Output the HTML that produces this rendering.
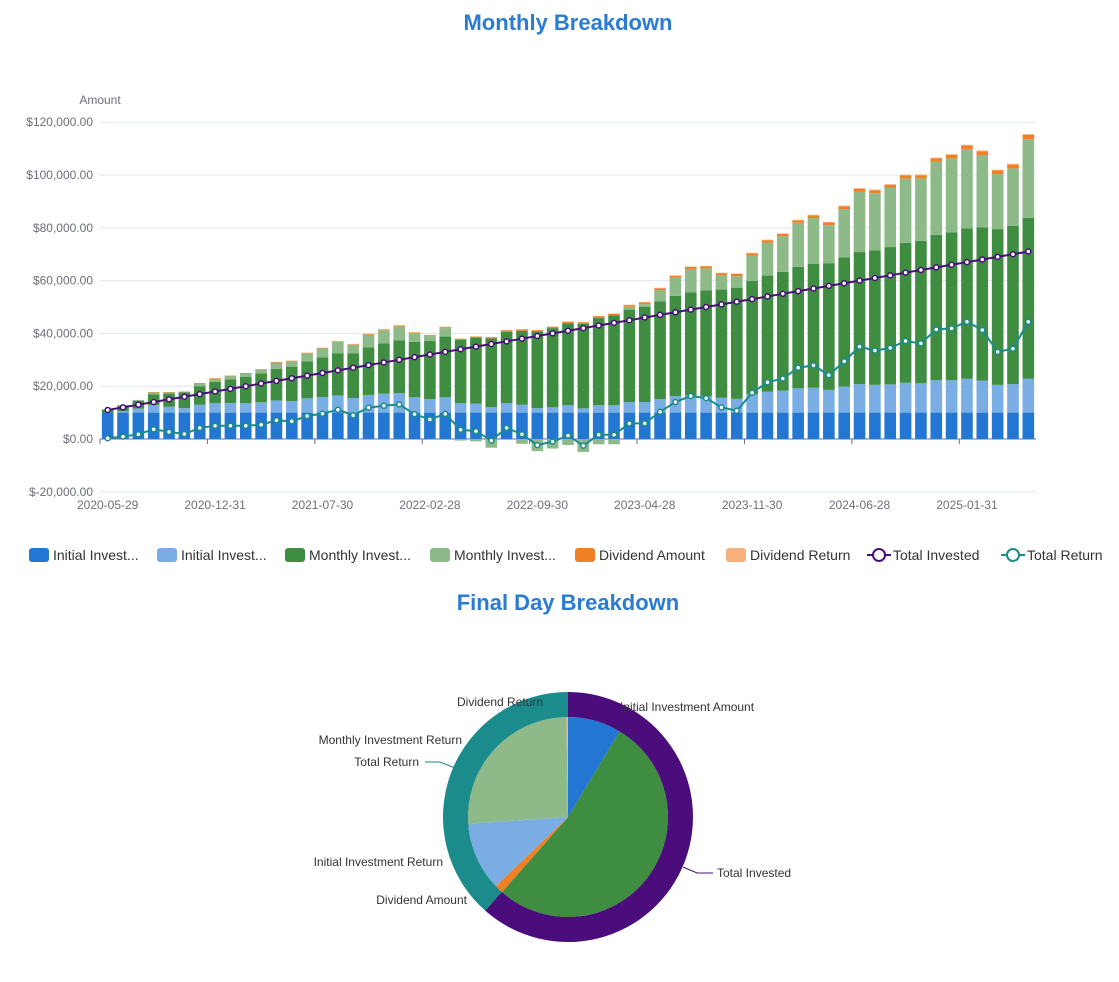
<!DOCTYPE html>
<html><head><meta charset="utf-8"><style>
body{margin:0;background:#fff;font-family:"Liberation Sans",sans-serif;}
svg text{font-family:"Liberation Sans",sans-serif;}
</style></head><body>
<svg id="chart" width="1119" height="977" xmlns="http://www.w3.org/2000/svg">
<text x="568" y="30" text-anchor="middle" font-size="22" font-weight="bold" fill="#2a7bd3">Monthly Breakdown</text>
<text x="100" y="104" text-anchor="middle" font-size="12" fill="#6e7079">Amount</text>
<g id="grid"></g>
<g id="bars"></g>
<g id="lines"></g>
<g id="legend"></g>
<text x="568" y="610" text-anchor="middle" font-size="22" font-weight="bold" fill="#2a7bd3">Final Day Breakdown</text>
<g id="pie"></g>
</svg>
<script>
const dates=["2020-05-29","2020-12-31","2021-07-30","2022-02-28","2022-09-30","2023-04-28","2023-11-30","2024-06-28","2025-01-31"];
const yTicks=[-20000,0,20000,40000,60000,80000,100000,120000];
const initialAmount=[10,10,10,10,10,10,10,10,10,10,10,10,10,10,10,10,10,10,10,10,10,10,10,10,10,10,10,10,10,10,10,10,10,10,10,10,10,10,10,10,10,10,10,10,10,10,10,10,10,10,10,10,10,10,10,10,10,10,10,10,10];
const initialReturn=[0,0.6,1.5,2.9,2.2,1.7,3.0,3.6,3.6,3.6,3.9,4.6,4.4,5.4,5.9,6.5,5.5,6.7,7.2,7.4,5.8,5.1,5.8,3.6,3.4,2.1,3.6,3.0,1.7,2.0,2.8,1.6,2.8,2.8,4.0,4.0,5.1,6.2,6.5,6.3,5.6,5.2,6.9,7.9,8.3,9.2,9.4,8.6,9.8,10.8,10.5,10.7,11.3,11.1,12.3,12.3,12.8,12.1,10.5,10.8,12.8];
const monthlyAmount=[1,2,3,4,5,6,7,8,9,10,11,12,13,14,15,16,17,18,19,20,21,22,23,24,25,26,27,28,29,30,31,32,33,34,35,36,37,38,39,40,41,42,43,44,45,46,47,48,49,50,51,52,53,54,55,56,57,58,59,60,61];
const monthlyReturn=[0.3,0.3,0.3,0.8,0.5,0.2,1.1,1.3,1.3,1.3,1.4,2.4,2.0,3.0,3.4,4.3,3.2,4.8,5.0,5.3,3.2,1.9,3.2,-0.6,-0.9,-3.3,0.1,-1.8,-4.6,-3.6,-2.3,-4.9,-2.0,-2.0,1.1,1.1,4.3,6.9,8.9,8.3,5.4,4.5,9.6,12.5,13.5,16.7,17.3,14.4,18.3,22.8,21.6,22.4,24.3,23.6,27.7,28.0,30.0,27.5,20.8,21.7,29.8];
const dividendAmount=[0,0,0,0.05,0.05,0.05,0.1,0.1,0.1,0.1,0.15,0.15,0.2,0.2,0.2,0.25,0.25,0.3,0.3,0.3,0.35,0.35,0.4,0.4,0.4,0.45,0.45,0.5,0.5,0.5,0.55,0.55,0.6,0.6,0.6,0.65,0.7,0.7,0.75,0.75,0.8,0.8,0.85,0.9,0.9,0.95,1.0,1.0,1.05,1.1,1.1,1.15,1.2,1.2,1.25,1.3,1.35,1.4,1.4,1.45,1.6];
const dividendReturn=[0,0,0,0,0,0,0,0,0,0,0,0,0.1,0.1,0.1,0.1,0.1,0.1,0.1,0.1,0.1,0.1,0.1,0.1,0.1,0.1,0.1,0.1,0.1,0.1,0.2,0.2,0.2,0.2,0.2,0.2,0.2,0.2,0.2,0.2,0.2,0.2,0.2,0.2,0.2,0.2,0.2,0.2,0.3,0.3,0.3,0.3,0.3,0.3,0.3,0.3,0.3,0.3,0.3,0.3,0.3];
const totalInvested=[11,12,13,14,15,16,17,18,19,20,21,22,23,24,25,26,27,28,29,30,31,32,33,34,35,36,37,38,39,40,41,42,43,44,45,46,47,48,49,50,51,52,53,54,55,56,57,58,59,60,61,62,63,64,65,66,67,68,69,70,71];
const totalReturn=[0.3,0.9,1.8,3.7,2.7,1.9,4.2,5.0,5.0,5.0,5.4,7.1,6.7,8.7,9.6,11.1,9.0,11.9,12.6,13.1,9.4,7.4,9.5,3.5,3.0,-0.6,4.2,1.8,-2.3,-1.0,1.3,-2.5,1.6,1.6,5.9,5.9,10.3,14.0,16.3,15.5,12.0,10.7,17.5,21.5,22.9,27.0,27.9,24.2,29.4,35.0,33.5,34.5,37.1,36.2,41.5,41.9,44.4,41.3,33.0,34.2,44.4];
const seriesNames=["Initial Investment Amount","Initial Investment Return","Monthly Investment Amount","Monthly Investment Return","Dividend Amount","Dividend Return","Total Invested","Total Return"];
const colors=["#2377d3","#7aade3","#3f8d41","#8eba8a","#f08024","#f5b07e","#4a0d7b","#1b8b8b"];

const NS="http://www.w3.org/2000/svg";
function mk(tag,attrs,parent){const e=document.createElementNS(NS,tag);for(const k in attrs)e.setAttribute(k,attrs[k]);parent.appendChild(e);return e;}
const X0=100,X1=1036,N=initialAmount.length,step=(X1-X0)/N;
const yScale=v=>439-(v/20000)*52.8;
const xCenter=i=>X0+step*(i+0.5);
const grid=document.getElementById('grid');
yTicks.forEach(t=>{
  if(t!==0){const l=mk('line',{x1:X0,x2:X1,y1:yScale(t),y2:yScale(t),stroke:'#e0e6f1'},grid);
  
  }
  const tx=mk('text',{x:93,y:yScale(t)+4,'text-anchor':'end','font-size':12,fill:'#6e7079'},grid);
  tx.textContent=(t<0?'$-':'$')+Math.abs(t).toLocaleString('en-US',{minimumFractionDigits:2});
  
  
});
const bars=document.getElementById('bars');
const stack=[initialAmount,initialReturn,monthlyAmount,monthlyReturn,dividendAmount,dividendReturn];
const bw=11.6;
for(let i=0;i<N;i++){
  let pos=0,neg=0;
  stack.forEach((arr,s)=>{
    const v=arr[i]*1000;if(v===0)return;
    let a,b;
    if(v>0){a=pos;b=pos+v;pos=b;}else{a=neg;b=neg+v;neg=b;}
    const y1=yScale(Math.max(a,b)),y2=yScale(Math.min(a,b));
    const r=mk('rect',{x:xCenter(i)-bw/2,y:y1,width:bw,height:Math.max(0.5,y2-y1),fill:colors[s]},bars);
    
    
  });
}
// axis
const ax=mk('line',{x1:X0,x2:X1,y1:439,y2:439,stroke:'#6e7079'},grid);


for(let k=0;k<=N;k+=7){
  const tk=mk('line',{x1:X0+k*step,x2:X0+k*step,y1:439,y2:444,stroke:'#6e7079'},grid);
  
  
}
dates.forEach((d,j)=>{
  const t=mk('text',{x:xCenter(j*7),y:509,'text-anchor':'middle','font-size':12,fill:'#6e7079'},grid);
  t.textContent=d;
  
  
});
const lines=document.getElementById('lines');
[[totalInvested,6],[totalReturn,7]].forEach(([arr,s])=>{
  const p=mk('polyline',{points:arr.map((v,i)=>xCenter(i)+','+yScale(v*1000)).join(' '),fill:'none',stroke:colors[s],'stroke-width':2},lines);
  
  
  arr.forEach((v,i)=>{
    const c=mk('circle',{cx:xCenter(i),cy:yScale(v*1000),r:2.5,fill:'#fff',stroke:colors[s],'stroke-width':1.5},lines);
    
    
  });
});
// legend
const leg=document.getElementById('legend');
const legLabels=["Initial Invest...","Initial Invest...","Monthly Invest...","Monthly Invest...","Dividend Amount","Dividend Return","Total Invested","Total Return"];
const legX=[29,157,285,430,575,726,869,1003];
legLabels.forEach((lb,s)=>{
  const g=mk('g',{},leg);
  
  
  if(s<6){mk('rect',{x:legX[s],y:548,width:20,height:14,rx:3,fill:colors[s]},g);}
  else{mk('line',{x1:legX[s]-2,x2:legX[s]+22,y1:555,y2:555,stroke:colors[s],'stroke-width':2},g);
    mk('circle',{cx:legX[s]+10,cy:555,r:6,fill:'#fff',stroke:colors[s],'stroke-width':2},g);}
  const t=mk('text',{x:legX[s]+24,y:560,'font-size':14,fill:'#333'},g);t.textContent=lb;
});
// pie
const pie=document.getElementById('pie');
const CX=568,CY=817;
function arc(r0,r1,a0,a1,fill,name){
  const P=(r,a)=>[CX+r*Math.sin(a),CY-r*Math.cos(a)];
  const large=(a1-a0)>Math.PI?1:0;
  const [x1,y1]=P(r1,a0),[x2,y2]=P(r1,a1);
  let d;
  if(r0===0)d=`M${CX},${CY}L${x1},${y1}A${r1},${r1} 0 ${large} 1 ${x2},${y2}Z`;
  else{const [x3,y3]=P(r0,a1),[x4,y4]=P(r0,a0);d=`M${x1},${y1}A${r1},${r1} 0 ${large} 1 ${x2},${y2}L${x3},${y3}A${r0},${r0} 0 ${large} 0 ${x4},${y4}Z`;}
  const p=mk('path',{d:d,fill:fill},pie);
  
  
}
const lastI=N-1;
const inner=[initialAmount[lastI],monthlyAmount[lastI],dividendAmount[lastI],initialReturn[lastI],monthlyReturn[lastI],dividendReturn[lastI]];
const innerColors=[colors[0],colors[2],colors[4],colors[1],colors[3],colors[5]];
const innerTot=inner.reduce((a,b)=>a+b,0);
let a=0;
inner.forEach((v,k)=>{const b=a+v/innerTot*2*Math.PI;arc(0,100,a,b,innerColors[k],'pie-slice');a=b;});
const outer=[totalInvested[lastI],totalReturn[lastI]];
const outerTot=outer[0]+outer[1];
a=0;
outer.forEach((v,k)=>{const b=a+v/outerTot*2*Math.PI;arc(100,125,a,b,colors[6+k],'ring-slice');a=b;});
const pl=[["Initial Investment Amount",620,711,"start"],["Dividend Return",457,706,"start"],["Monthly Investment Return",462,744,"end"],["Total Return",419,766,"end"],["Initial Investment Return",443,866,"end"],["Dividend Amount",467,904,"end"],["Total Invested",717,877,"start"]];
pl.forEach(l=>{const t=mk('text',{x:l[1],y:l[2],'text-anchor':l[3],'font-size':12,fill:'#333'},pie);t.textContent=l[0];

});
const ll1=mk('polyline',{points:'425,762 440,762 455,768',fill:'none',stroke:colors[7]},pie);


const ll2=mk('polyline',{points:'683,867 697,873 713,873',fill:'none',stroke:colors[6]},pie);


</script>
</body></html>
